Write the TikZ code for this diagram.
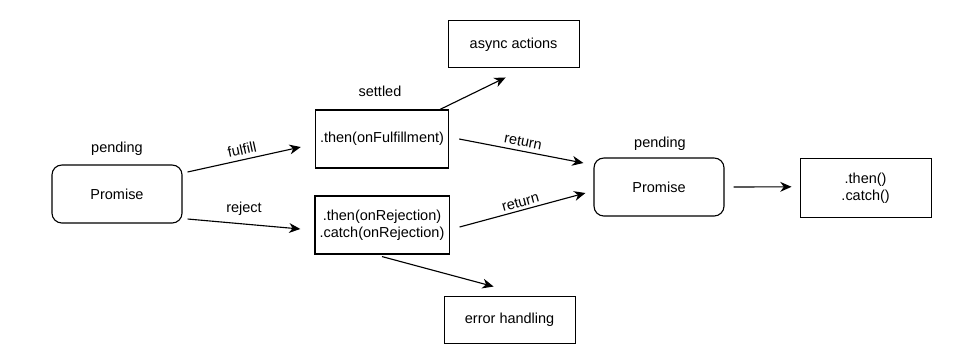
\documentclass[tikz,border=0pt]{standalone}
\usepackage{fontspec}
\setmainfont{Liberation Sans}
\usepackage{tikz}
\usetikzlibrary{arrows.meta, positioning}

\begin{document}
\begin{tikzpicture}[
		prom/.style={draw, line width=0.8pt, rounded corners=7pt, minimum width=3.25cm,
			minimum height=1.45cm, align=center},
		hbox/.style={draw, line width=0.8pt, minimum width=3.25cm,
			minimum height=1.45cm, align=center},
		sbox/.style={draw, line width=0.8pt, minimum width=3.275cm,
			minimum height=1.175cm, align=center},
		lbl/.style={inner sep=1pt},
		flow/.style={line width=0.8pt, -{Stealth[length=8pt, width=7pt, inset=2.5pt]}},
		font=\fontsize{10.3}{12}\selectfont
	]
	\useasboundingbox (0,0) rectangle (23.825,-9.025);

	% ===== Left: the first promise =====
	\node[prom] (prom1) at (2.925,-4.85) {Promise};
	\node (pend1) at (2.925,-3.725) {pending};

	% ===== Middle: handlers =====
	\node[hbox] (then1) at (9.55,-3.475) {.then(onFulfillment)};
	\node (settled) at (9.5,-2.275) {settled};
	\node[hbox] (catch1) at (9.55,-5.625) {.then(onRejection)\\.catch(onRejection)};
	\node[sbox] (async) at (12.84,-1.11) {async actions};
	\node[sbox] (err) at (12.74,-7.99) {error handling};

	% ===== Right: the returned promise =====
	\node[prom] (prom2) at (16.475,-4.675) {Promise};
	\node (pend2) at (16.5,-3.6) {pending};
	\node[hbox, minimum width=3.275cm, minimum height=1.475cm] (chain) at (21.64,-4.71)
		{.then()\\.catch()};

	% ===== Connectors =====
	\draw[flow] ([xshift=0.125cm, yshift=0.55cm]prom1.east)
		-- node[lbl, midway, above=2pt, sloped] {fulfill}
		([xshift=-0.35cm, yshift=-0.2cm]then1.west);
	\draw[flow] ([xshift=0.125cm, yshift=-0.625cm]prom1.east)
		-- node[lbl, midway, above=5pt] {reject}
		([xshift=-0.35cm, yshift=-0.1cm]catch1.west);
	\draw[flow] ([xshift=1.45cm]then1.north)
		-- ([xshift=-0.2cm, yshift=-0.225cm]async.south);
	\draw[flow] ([xshift=0.25cm]then1.east)
		-- node[lbl, midway, above=2pt, sloped] {return}
		([xshift=-0.25cm, yshift=0.6cm]prom2.west);
	\draw[flow] ([xshift=0.25cm, yshift=-0.05cm]catch1.east)
		-- node[lbl, midway, above=1pt, sloped] {return}
		([xshift=-0.2cm, yshift=-0.15cm]prom2.west);
	\draw[flow] ([xshift=0.225cm]prom2.east)
		-- ([xshift=-0.2cm, yshift=0.04cm]chain.west);
	\draw[flow] ([yshift=-0.05cm]catch1.south)
		-- ([xshift=-0.4cm, yshift=0.225cm]err.north);
\end{tikzpicture}
\end{document}
